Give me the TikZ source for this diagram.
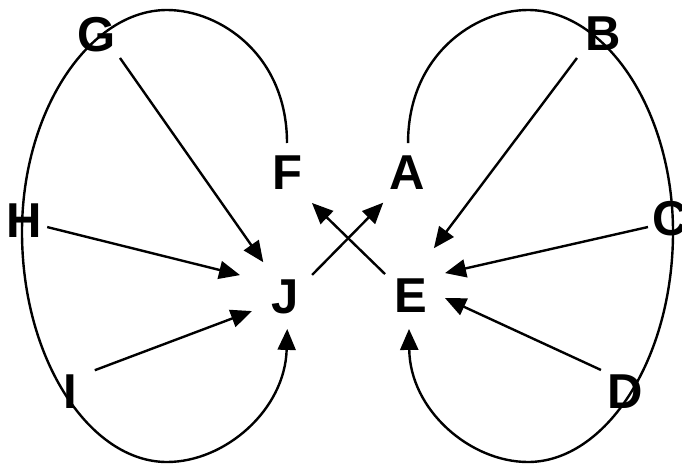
\documentclass[tikz,border=0pt]{standalone}
\usepackage{fontspec}
\setmainfont{Liberation Sans}
\usetikzlibrary{arrows.meta,calc}
\begin{document}
\begin{tikzpicture}[x=1pt,y=-1pt,
  lbl/.style={inner sep=0pt, outer sep=0pt, font=\fontsize{49}{49}\selectfont\bfseries},
  conn/.style={line width=2.4pt},
  arr/.style={conn, -{Triangle[length=21pt,width=18pt]}}]
\useasboundingbox (0,0) rectangle (682,463);
\node[lbl] (G) at (97,35) {G};
\node[lbl] (F) at (287,173) {F};
\node[lbl] (A) at (407,173) {A};
\node[lbl] (B) at (603,34) {B};
\node[lbl] (C) at (670,219) {C};
\node[lbl] (H) at (24,221) {H};
\node[lbl] (J) at (285,297) {J};
\node[lbl] (E) at (411,296) {E};
\node[lbl] (I) at (70,392) {I};
\node[lbl] (D) at (625,392) {D};
% straight arrows
\draw[arr] ($(G)+(-45:32.5pt)$) -- ($(J)+(122:41pt)$);
\draw[arr] ($(H)+(-14.6:24pt)$) -- ($(J)+(154:50pt)$);
\draw[arr] ($(I)+(41.3:33pt)$) -- ($(J)+(203:36pt)$);
\draw[arr] ($(J)+(39.2:35pt)$) -- ($(A)+(231.3:38pt)$);
\draw[arr] ($(E)+(139.8:34pt)$) -- ($(F)+(-50.2:39pt)$);
\draw[arr] ($(B)+(222.7:35.4pt)$) -- ($(E)+(64.4:53pt)$);
\draw[arr] ($(C)+(200:23.4pt)$) -- ($(E)+(34:41pt)$);
\draw[arr] ($(D)+(137.5:32.6pt)$) -- ($(E)+(-3.4:34pt)$);
% curves
\coordinate (fTop) at ($(F)+(90:30pt)$);
\coordinate (jBot) at ($(J)+(-86:32pt)$);
\coordinate (aTop) at ($(A)+(88:30pt)$);
\coordinate (eBot) at ($(E)+(-93.5:33pt)$);
\draw[arr] (fTop) .. controls (287,55) and (220,10) .. (167,10)
  .. controls (90,10) and (22,110) .. (22,232)
  .. controls (22,360) and (90,462) .. (167,462)
  .. controls (225,462) and (285,410) .. (jBot);
\draw[arr] (aTop) .. controls (408,55) and (475,10) .. (528,10)
  .. controls (605,10) and (673,110) .. (673,232)
  .. controls (673,360) and (605,462) .. (528,462)
  .. controls (470,462) and (410,410) .. (eBot);
\end{tikzpicture}
\end{document}
